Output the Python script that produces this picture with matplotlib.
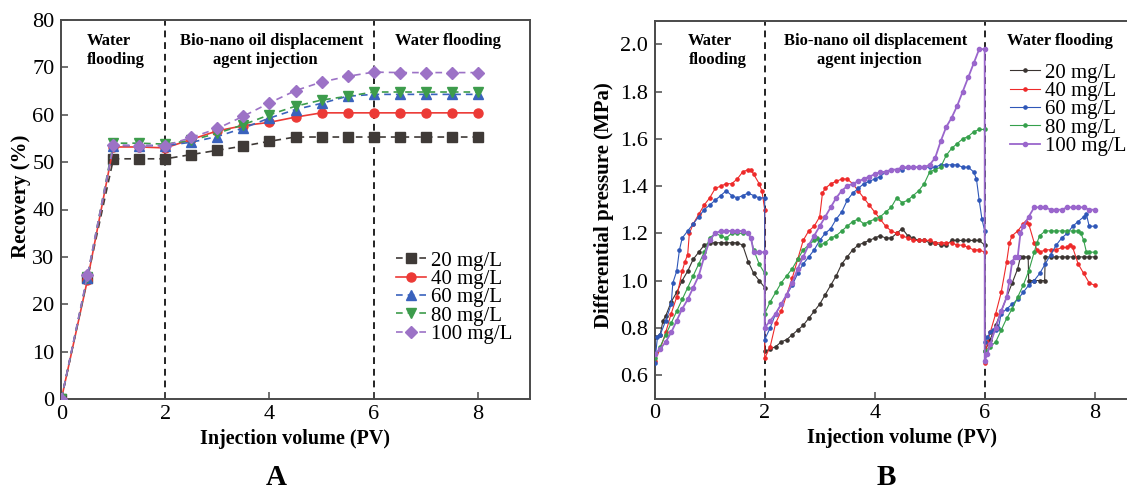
import matplotlib
matplotlib.use("Agg")
import matplotlib.pyplot as plt
import numpy as np

plt.rcParams['font.family'] = ['Liberation Serif', 'DejaVu Serif']
plt.rcParams['mathtext.fontset'] = 'stix'

labels = ["20 mg/L", "40 mg/L", "60 mg/L", "80 mg/L", "100 mg/L"]
colors_a = ["#3f3a37", "#ec3a36", "#3a62bd", "#3d9c4c", "#9c72c6"]
colors_b = ["#3a3431", "#ee2a2a", "#2f57b8", "#35a04b", "#9a66cc"]
markers_a = ["s", "o", "^", "v", "D"]
styles_a = ["--", "-", "--", "--", "--"]

# ---------------- Panel A: recovery ----------------
pv_a = [0, 0.5, 1, 1.5, 2, 2.5, 3, 3.5, 4, 4.5, 5, 5.5, 6, 6.5, 7, 7.5, 8]
rec_20 = [0, 25.5, 50.7, 50.7, 50.7, 51.6, 52.5, 53.4, 54.4, 55.3, 55.3, 55.3, 55.3, 55.3, 55.3, 55.3, 55.3]
rec_40 = [0, 25.1, 53.2, 53.2, 53.0, 54.8, 56.6, 57.7, 58.4, 59.5, 60.4, 60.4, 60.4, 60.4, 60.4, 60.4, 60.4]
rec_60 = [0, 25.6, 53.5, 53.5, 53.5, 54.2, 55.4, 57.2, 59.3, 61.1, 62.4, 63.9, 64.3, 64.3, 64.3, 64.3, 64.3]
rec_80 = [0, 25.8, 54.0, 54.0, 53.8, 54.6, 56.1, 57.9, 60.0, 61.8, 63.1, 63.9, 64.8, 64.8, 64.8, 64.8, 64.8]
rec_100 = [0, 26.1, 53.6, 53.5, 53.5, 55.2, 57.1, 59.7, 62.5, 65.1, 66.9, 68.1, 69.0, 68.9, 68.9, 68.9, 68.9]
recovery = [rec_20, rec_40, rec_60, rec_80, rec_100]

# ---------------- Panel B: differential pressure ----------------
# 20 mg/L
x20 = [0.0, 0.1, 0.15, 0.2, 0.3, 0.4, 0.5, 0.6, 0.7, 0.8, 0.9, 1.0, 1.1, 1.2, 1.3, 1.4, 1.5, 1.6, 1.7, 1.8, 1.9, 2.0,
       2.0, 2.1, 2.2, 2.3, 2.4, 2.5, 2.6, 2.7, 2.8, 2.9, 3.0, 3.1, 3.2, 3.3, 3.4, 3.5, 3.6, 3.7, 3.8, 3.9, 4.0,
       4.1, 4.2, 4.3, 4.4, 4.5, 4.6, 4.7, 4.8, 4.9, 5.0, 5.1, 5.2, 5.3, 5.4, 5.5, 5.6, 5.7, 5.8, 5.9, 6.0,
       6.0, 6.1, 6.2, 6.3, 6.4, 6.5, 6.6, 6.65, 6.7, 6.79, 6.8, 6.9, 7.0, 7.09, 7.1, 7.2, 7.3, 7.4, 7.5, 7.6, 7.7, 7.8, 7.9, 8.0]
p20 = [0.76, 0.77, 0.83, 0.85, 0.91, 0.95, 1.00, 1.04, 1.09, 1.12, 1.15, 1.16, 1.16, 1.16, 1.16, 1.16, 1.16, 1.15, 1.08, 1.03, 1.00, 0.97,
       0.70, 0.71, 0.72, 0.74, 0.75, 0.77, 0.79, 0.81, 0.84, 0.87, 0.90, 0.94, 0.98, 1.02, 1.07, 1.10, 1.13, 1.15, 1.16, 1.17, 1.18,
       1.19, 1.18, 1.18, 1.20, 1.22, 1.19, 1.18, 1.17, 1.17, 1.16, 1.16, 1.15, 1.15, 1.17, 1.17, 1.17, 1.17, 1.17, 1.17, 1.15,
       0.70, 0.75, 0.81, 0.87, 0.93, 0.99, 1.05, 1.10, 1.10, 1.10, 1.00, 1.00, 1.00, 1.00, 1.10, 1.10, 1.10, 1.10, 1.10, 1.10, 1.10, 1.10, 1.10, 1.10]
# 40 mg/L
x40 = [0.0, 0.1, 0.2, 0.3, 0.4, 0.5, 0.55, 0.6, 0.63, 0.7, 0.8, 0.9, 1.0, 1.1, 1.2, 1.3, 1.4, 1.5, 1.6, 1.7, 1.75, 1.8, 1.9, 1.95, 2.0,
       2.0, 2.1, 2.2, 2.3, 2.4, 2.5, 2.6, 2.7, 2.8, 2.9, 3.0, 3.05, 3.1, 3.2, 3.3, 3.4, 3.5, 3.6, 3.7, 3.8, 3.9, 4.0,
       4.1, 4.2, 4.3, 4.4, 4.5, 4.6, 4.7, 4.8, 4.9, 5.0, 5.1, 5.2, 5.3, 5.4, 5.5, 5.6, 5.7, 5.8, 5.9, 6.0,
       6.0, 6.05, 6.1, 6.2, 6.3, 6.4, 6.45, 6.5, 6.6, 6.7, 6.75, 6.8, 6.9, 6.95, 7.0, 7.1, 7.2, 7.3, 7.4, 7.5, 7.55, 7.6, 7.7, 7.8, 7.9, 8.0]
p40 = [0.66, 0.71, 0.78, 0.86, 0.93, 1.04, 1.08, 1.11, 1.20, 1.24, 1.28, 1.32, 1.35, 1.39, 1.40, 1.41, 1.41, 1.43, 1.46, 1.47, 1.47, 1.45, 1.41, 1.38, 1.30,
       0.67, 0.72, 0.82, 0.87, 0.94, 1.01, 1.09, 1.17, 1.21, 1.23, 1.27, 1.37, 1.39, 1.41, 1.42, 1.43, 1.43, 1.41, 1.38, 1.35, 1.32, 1.29,
       1.26, 1.23, 1.21, 1.20, 1.19, 1.18, 1.17, 1.17, 1.17, 1.17, 1.16, 1.16, 1.16, 1.16, 1.15, 1.15, 1.14, 1.13, 1.13, 1.12,
       0.65, 0.74, 0.78, 0.86, 0.95, 1.08, 1.16, 1.19, 1.21, 1.24, 1.25, 1.24, 1.16, 1.13, 1.12, 1.13, 1.13, 1.13, 1.14, 1.14, 1.15, 1.14, 1.07, 1.03, 0.99, 0.98]
# 60 mg/L
x60 = [0.0, 0.05, 0.1, 0.2, 0.3, 0.33, 0.4, 0.45, 0.5, 0.6, 0.7, 0.8, 0.9, 1.0, 1.1, 1.2, 1.3, 1.4, 1.5, 1.6, 1.7, 1.8, 1.9, 2.0,
       2.0, 2.1, 2.2, 2.3, 2.4, 2.5, 2.6, 2.7, 2.8, 2.9, 3.0, 3.1, 3.2, 3.3, 3.4, 3.5, 3.6, 3.7, 3.8, 3.9, 4.0,
       4.1, 4.2, 4.3, 4.4, 4.5, 4.6, 4.7, 4.8, 4.9, 5.0, 5.1, 5.2, 5.3, 5.4, 5.5, 5.6, 5.7, 5.8, 5.85, 5.9, 5.95, 6.0,
       6.0, 6.05, 6.1, 6.15, 6.2, 6.25, 6.3, 6.4, 6.5, 6.6, 6.7, 6.8, 6.9, 7.0, 7.1, 7.2, 7.3, 7.4, 7.5, 7.6, 7.7, 7.8, 7.85, 7.9, 8.0]
p60 = [0.65, 0.76, 0.77, 0.83, 0.90, 0.99, 1.04, 1.13, 1.18, 1.21, 1.24, 1.27, 1.30, 1.32, 1.34, 1.36, 1.38, 1.36, 1.35, 1.36, 1.37, 1.36, 1.35, 1.35,
       0.75, 0.80, 0.86, 0.90, 0.94, 0.98, 1.03, 1.07, 1.10, 1.13, 1.17, 1.20, 1.22, 1.26, 1.29, 1.34, 1.37, 1.39, 1.41, 1.42, 1.43,
       1.44, 1.46, 1.47, 1.47, 1.47, 1.48, 1.48, 1.48, 1.48, 1.48, 1.48, 1.49, 1.49, 1.49, 1.49, 1.48, 1.48, 1.46, 1.43, 1.34, 1.26, 1.21,
       0.74, 0.76, 0.78, 0.79, 0.79, 0.80, 0.86, 0.88, 0.90, 0.92, 0.95, 0.98, 1.00, 1.03, 1.07, 1.11, 1.15, 1.18, 1.20, 1.23, 1.25, 1.27, 1.28, 1.23, 1.23]
# 80 mg/L
x80 = [0.0, 0.1, 0.2, 0.3, 0.4, 0.5, 0.6, 0.7, 0.8, 0.9, 1.0, 1.1, 1.2, 1.3, 1.4, 1.5, 1.6, 1.7, 1.75, 1.8, 1.9, 2.0,
       2.0, 2.1, 2.2, 2.3, 2.4, 2.5, 2.6, 2.7, 2.8, 2.9, 2.95, 3.0, 3.1, 3.2, 3.3, 3.4, 3.5, 3.6, 3.7, 3.8, 3.9, 4.0,
       4.1, 4.2, 4.3, 4.4, 4.5, 4.6, 4.7, 4.8, 4.9, 5.0, 5.1, 5.2, 5.3, 5.4, 5.5, 5.6, 5.7, 5.8, 5.9, 6.0,
       6.0, 6.1, 6.2, 6.3, 6.4, 6.5, 6.6, 6.7, 6.8, 6.9, 6.95, 7.0, 7.1, 7.2, 7.3, 7.4, 7.5, 7.6, 7.7, 7.75, 7.8, 7.85, 7.9, 8.0]
p80 = [0.67, 0.72, 0.77, 0.82, 0.87, 0.92, 0.97, 1.02, 1.07, 1.12, 1.18, 1.20, 1.19, 1.18, 1.20, 1.20, 1.20, 1.20, 1.18, 1.13, 1.07, 1.03,
       0.86, 0.91, 0.95, 0.99, 1.02, 1.05, 1.09, 1.13, 1.15, 1.17, 1.18, 1.15, 1.16, 1.18, 1.19, 1.21, 1.23, 1.25, 1.26, 1.24, 1.25, 1.26,
       1.27, 1.29, 1.31, 1.35, 1.33, 1.34, 1.36, 1.38, 1.41, 1.46, 1.47, 1.48, 1.53, 1.56, 1.58, 1.60, 1.61, 1.63, 1.64, 1.64,
       0.70, 0.72, 0.74, 0.79, 0.84, 0.88, 0.93, 0.98, 1.04, 1.12, 1.16, 1.19, 1.21, 1.21, 1.21, 1.21, 1.21, 1.21, 1.21, 1.20, 1.17, 1.12, 1.12, 1.12]
# 100 mg/L
x100 = [0.0, 0.1, 0.2, 0.3, 0.4, 0.5, 0.6, 0.7, 0.8, 0.9, 1.0, 1.1, 1.2, 1.3, 1.4, 1.5, 1.6, 1.7, 1.75, 1.8, 1.9, 2.0,
        2.0, 2.1, 2.2, 2.3, 2.4, 2.5, 2.6, 2.7, 2.8, 2.9, 3.0, 3.1, 3.2, 3.3, 3.4, 3.5, 3.6, 3.7, 3.8, 3.9, 4.0,
        4.1, 4.2, 4.3, 4.4, 4.5, 4.6, 4.7, 4.8, 4.9, 5.0, 5.1, 5.2, 5.3, 5.4, 5.5, 5.6, 5.7, 5.8, 5.9, 6.0,
        6.0, 6.05, 6.1, 6.2, 6.3, 6.4, 6.45, 6.5, 6.55, 6.6, 6.65, 6.7, 6.8, 6.9, 7.0, 7.1, 7.2, 7.3, 7.4, 7.5, 7.6, 7.7, 7.8, 7.9, 8.0]
p100 = [0.69, 0.71, 0.74, 0.78, 0.83, 0.88, 0.92, 0.97, 1.02, 1.10, 1.17, 1.20, 1.21, 1.21, 1.21, 1.21, 1.21, 1.20, 1.18, 1.12, 1.12, 1.12,
        0.80, 0.83, 0.86, 0.90, 0.94, 0.99, 1.05, 1.10, 1.15, 1.19, 1.23, 1.27, 1.31, 1.35, 1.38, 1.40, 1.41, 1.42, 1.43, 1.44, 1.45,
        1.46, 1.46, 1.47, 1.47, 1.48, 1.48, 1.48, 1.48, 1.48, 1.49, 1.52, 1.59, 1.65, 1.69, 1.74, 1.80, 1.86, 1.92, 1.98, 1.98,
        0.66, 0.69, 0.73, 0.80, 0.87, 0.93, 1.00, 1.08, 1.10, 1.10, 1.20, 1.23, 1.27, 1.31, 1.31, 1.31, 1.30, 1.30, 1.30, 1.31, 1.31, 1.31, 1.31, 1.30, 1.30]
pv_b = [x20, x40, x60, x80, x100]
pressure = [p20, p40, p60, p80, p100]

xticks = [0, 2, 4, 6, 8]
stage_lines = [2, 6]

W, H = 1127, 491
fig = plt.figure(figsize=(W / 100, H / 100), dpi=100)
axA = fig.add_axes([61.4 / W, 1 - 399 / H, 468.2 / W, 379 / H])
axB = fig.add_axes([654.7 / W, 1 - 398.6 / H, 495 / W, 377.8 / H])

spine_col = "#4a4a4a"
for ax in (axA, axB):
    for s in ax.spines.values():
        s.set_color(spine_col)
        s.set_linewidth(1.4)
    ax.tick_params(direction="in", length=5, width=1.1, color=spine_col, labelsize=16,
                   top=False, right=False, pad=5)
    ax.tick_params(axis="x", pad=4)
    ax.set_xlim(0, 9)
    ax.set_xticks(xticks)
    for xv in stage_lines:
        ax.axvline(xv, color="#222222", ls=(0, (3.5, 2.5)), lw=1.4, zorder=1)
    ax.set_xlabel("Injection volume (PV)", fontsize=14.5, fontweight="bold")

axA.xaxis.set_label_coords(0.5, -0.078)
axB.xaxis.set_label_coords(0.5, -0.079)

leg_kw = dict(frameon=False, fontsize=15, handlelength=1.45, handletextpad=0.24,
              labelspacing=-0.06, borderaxespad=0, borderpad=0, loc="upper left")

# Panel A
for y, c, m, ls, lab in zip(recovery, colors_a, markers_a, styles_a, labels):
    axA.plot(pv_a, y, ls=ls, color=c, marker=m, ms=6.5, lw=1.2, label=lab,
             dashes=(4, 3) if ls == "--" else (None, None), zorder=3)
axA.set_ylim(0, 80)
axA.set_yticks(range(0, 81, 10))
axA.set_ylabel("Recovery (%)", fontsize=15, fontweight="bold")
axA.yaxis.set_label_coords(-0.064, 0.536)
axA.legend(bbox_to_anchor=(396 / W, 1 - 251 / H), bbox_transform=fig.transFigure, **leg_kw)
bold = dict(fontsize=12, fontweight="bold", va="baseline", ha="center")
axA.text(0.91, 74.7, "Water", **bold)
axA.text(1.05, 70.7, "flooding", **bold)
axA.text(4.04, 74.7, "Bio-nano oil displacement", **bold)
axA.text(3.92, 70.7, "agent injection", **bold)
axA.text(7.43, 74.7, "Water flooding", **bold)

# Panel B
for xs, y, c, lab in zip(pv_b, pressure, colors_b, labels):
    ms = 3.0 if lab == "100 mg/L" else 2.3
    lw = 1.3 if lab == "100 mg/L" else 0.8
    axB.plot(xs, y, '-', color=c, marker='o', ms=ms, lw=lw, label=lab, zorder=3)
axB.set_ylim(0.5, 2.1)
axB.set_yticks(np.arange(0.6, 2.01, 0.2))
axB.set_yticklabels(["%.1f" % v for v in np.arange(0.6, 2.01, 0.2)])
axB.set_ylabel("Differential pressure (MPa)", fontsize=15, fontweight="bold")
axB.yaxis.set_label_coords(-0.082, 0.512)
axB.legend(bbox_to_anchor=(1010 / W, 1 - 63 / H), bbox_transform=fig.transFigure, **leg_kw)
axB.text(1.0, 1.997, "Water", **bold)
axB.text(1.15, 1.917, "flooding", **bold)
axB.text(4.02, 1.997, "Bio-nano oil displacement", **bold)
axB.text(3.90, 1.917, "agent injection", **bold)
axB.text(7.36, 1.997, "Water flooding", **bold)

fig.text(276 / W, 1 - 485 / H, "A", ha="center", va="baseline", fontsize=21, fontweight="bold")
fig.text(886 / W, 1 - 485 / H, "B", ha="center", va="baseline", fontsize=21, fontweight="bold")

fig.savefig("out.png", dpi=100)
